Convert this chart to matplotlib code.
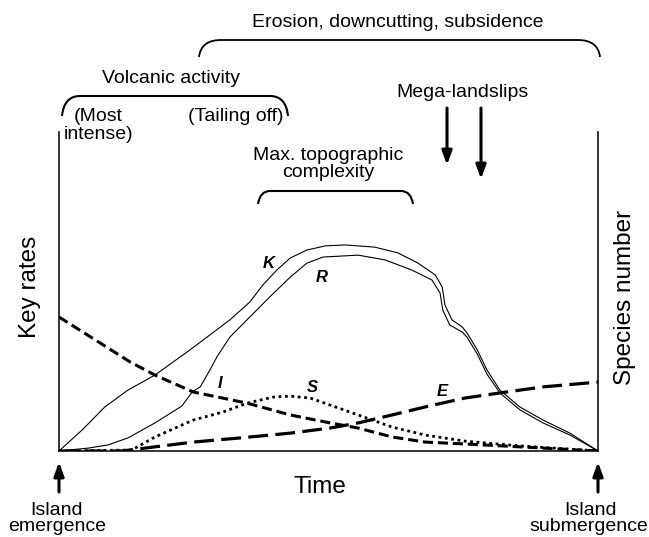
import numpy as np
import matplotlib
matplotlib.use("Agg")
import matplotlib.pyplot as plt
from matplotlib.path import Path
from matplotlib.patches import PathPatch

plt.rcParams['font.family'] = ['Liberation Sans', 'DejaVu Sans']

# time runs 0..100 (emergence -> submergence), rates / species in 0..100
k_t = [0, 4.3, 8.5, 12.8, 17.8, 24.3, 28.0, 31.7, 35.4, 37.8, 40.4, 42.9, 46.0, 49.4,
       53.1, 58.6, 62.9, 66.6, 69.8, 71.1, 71.6, 72.9, 74.8, 75.7, 77.6, 79.4, 81.8,
       85.5, 89.8, 94.8, 100]
k_val = [0, 6.6, 13.8, 19.1, 23.8, 31.7, 36.4, 41.1, 46.7, 52.0, 56.7, 60.5, 63.0, 64.3,
         64.6, 63.9, 62.1, 58.9, 55.2, 51.4, 45.8, 41.1, 38.9, 37.0, 31.7, 25.4, 19.1,
         13.8, 9.7, 5.6, 0]

r_t = [0, 5.4, 9.1, 12.8, 17.8, 22.8, 24.7, 26.2, 28.0, 29.3, 31.7, 35.4, 39.1, 42.9,
       46.0, 49.0, 55.5, 60.5, 65.5, 69.2, 70.7, 71.2, 72.5, 74.8, 75.7, 77.6, 79.4,
       81.8, 85.5, 89.8, 94.8, 100]
r_val = [0, 0.9, 1.9, 4.1, 8.8, 14.1, 18.5, 20.1, 25.4, 29.5, 35.7, 42.0, 48.3, 54.5,
         58.9, 60.8, 61.4, 59.9, 56.7, 53.6, 49.5, 44.2, 39.5, 37.3, 35.7, 30.4, 24.1,
         18.2, 12.9, 8.8, 5.0, 0]

i_t = [0, 7.6, 13.2, 17.8, 24.9, 34.9, 42.9, 50.3, 55.5, 61.8, 67.9, 75.3, 85.5, 100]
i_val = [42.0, 33.9, 27.9, 23.8, 18.5, 15.0, 11.3, 8.8, 7.2, 4.4, 2.8, 2.2, 1.3, 0]

s_t = [0, 13.5, 17.8, 24.9, 30.4, 34.9, 39.7, 42.9, 46.6, 50.3, 55.5, 61.8, 67.9, 75.3, 85.5, 100]
s_val = [0, 0.3, 4.4, 9.7, 12.2, 15.0, 16.9, 17.2, 16.6, 14.4, 11.3, 7.5, 5.0, 3.1, 1.6, 0]

e_t = [0, 11.7, 17.8, 24.9, 33.6, 42.9, 50.3, 55.5, 61.8, 67.9, 75.3, 81.8, 89.8, 100]
e_val = [0, 0, 1.3, 2.8, 4.1, 5.6, 7.2, 8.8, 11.3, 13.8, 16.6, 18.2, 20.1, 21.6]

W, H = 649, 537
fig = plt.figure(figsize=(W / 100, H / 100), dpi=100)
ax = fig.add_axes([59 / W, (H - 451) / H, 539 / W, 319 / H])
ax.set_xlim(0, 100)
ax.set_ylim(0, 100)
ax.set_xticks([])
ax.set_yticks([])
ax.spines['top'].set_visible(False)
for s in ['left', 'right', 'bottom']:
    ax.spines[s].set_linewidth(1.1)

ax.plot(k_t, k_val, color='black', lw=0.8, solid_joinstyle='round')
ax.plot(r_t, r_val, color='black', lw=0.8, solid_joinstyle='round')
ax.plot(i_t, i_val, color='black', lw=2.2, dashes=(3.3, 1.6))
ax.plot(s_t, s_val, color='black', lw=2.0, dashes=(1, 1.3))
ax.plot(e_t, e_val, color='black', lw=2.3, dashes=(6.2, 2.3))

# overlay in pixel coords for annotations
ov = fig.add_axes([0, 0, 1, 1])
ov.set_xlim(0, W)
ov.set_ylim(H, 0)
ov.axis('off')


def brace(x0, x1, y_top, y_end, r, lw):
    verts = [(x0, y_end), (x0 + 2, y_top), (x0 + r, y_top),
             (x1 - r, y_top), (x1 - 2, y_top), (x1, y_end)]
    codes = [Path.MOVETO, Path.CURVE3, Path.CURVE3,
             Path.LINETO, Path.CURVE3, Path.CURVE3]
    ov.add_patch(PathPatch(Path(verts, codes), fill=False, lw=lw, color='black'))


brace(199, 600, 40, 57, 22, 1.3)
brace(62, 288, 96, 116, 18, 1.5)
brace(258, 413, 191, 204, 12, 1.5)

fs = 14
ov.text(398, 27, 'Erosion, downcutting, subsidence', fontsize=fs, ha='center', va='baseline')
ov.text(171, 83, 'Volcanic activity', fontsize=fs, ha='center', va='baseline')
ov.text(74, 121, '(Most', fontsize=fs, ha='left', va='baseline')
ov.text(64, 139, 'intense)', fontsize=fs, ha='left', va='baseline')
ov.text(283, 121, '(Tailing off)', fontsize=fs, ha='right', va='baseline')
ov.text(328, 160, 'Max. topographic', fontsize=fs, ha='center', va='baseline')
ov.text(328, 177, 'complexity', fontsize=fs, ha='center', va='baseline')
ov.text(462, 97, 'Mega-landslips', fontsize=fs, ha='center', va='baseline')

ap = dict(arrowstyle='-|>,head_length=0.55,head_width=0.2', lw=2.2, color='black',
          mutation_scale=15, shrinkA=0, shrinkB=0)
ov.annotate('', xy=(447, 165), xytext=(447, 108), arrowprops=ap)
ov.annotate('', xy=(481, 179), xytext=(481, 108), arrowprops=ap)
ov.annotate('', xy=(59, 462), xytext=(59, 492), arrowprops=ap)
ov.annotate('', xy=(598, 462), xytext=(598, 492), arrowprops=ap)

ov.text(30, 287, 'Key rates', fontsize=17.5, rotation=90, ha='center', va='center')
ov.text(625, 297, 'Species number', fontsize=17.5, rotation=90, ha='center', va='center')
ov.text(320, 493, 'Time', fontsize=17.5, ha='center', va='baseline')

ov.text(57, 515, 'Island', fontsize=14, ha='center', va='baseline')
ov.text(57, 531, 'emergence', fontsize=14, ha='center', va='baseline')
ov.text(590, 515, 'Island', fontsize=14, ha='center', va='baseline')
ov.text(589, 531, 'submergence', fontsize=14, ha='center', va='baseline')

lab = dict(fontsize=12, fontstyle='italic', fontweight='bold', ha='center', va='center')
ov.text(269, 263, 'K', **lab)
ov.text(322, 277, 'R', **lab)
ov.text(220, 383, 'I', **lab)
ov.text(312, 388, 'S', **lab)
ov.text(442, 392, 'E', **lab)

fig.savefig('out.png', dpi=100)
